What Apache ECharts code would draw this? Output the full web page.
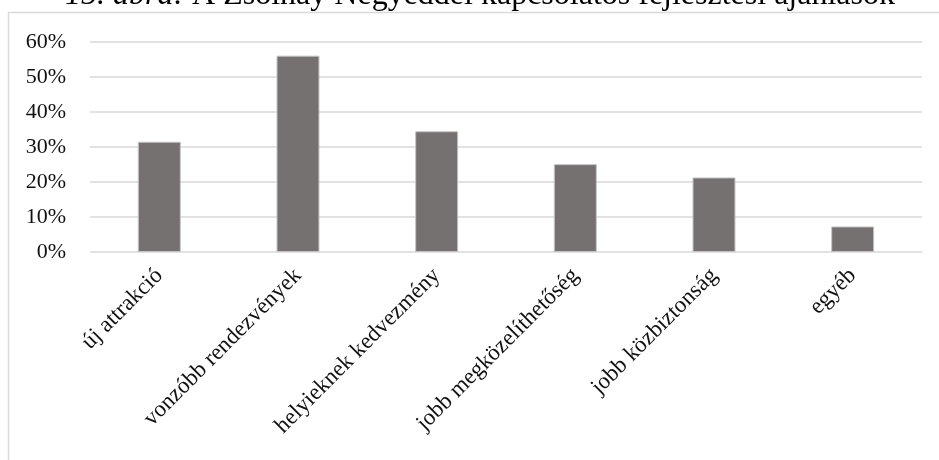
<!DOCTYPE html>
<html>
<head>
<meta charset="utf-8">
<style>
  html, body { margin: 0; padding: 0; background: #ffffff; }
  #chart { width: 939px; height: 460px; }
</style>
<script src="https://cdn.jsdelivr.net/npm/echarts@6/dist/echarts.min.js"></script>
</head>
<body>
<div id="chart"></div>
<script>
// Fejlesztési ajánlások – válaszok aránya
const categories = [
  'új attrakció',
  'vonzóbb rendezvények',
  'helyieknek kedvezmény',
  'jobb megközelíthetőség',
  'jobb közbiztonság',
  'egyéb'
];
const shares = [0.315, 0.561, 0.345, 0.251, 0.213, 0.073];
const yTicks = { min: 0, max: 0.6, step: 0.1 };

const serif = '"Liberation Serif", "Times New Roman", serif';
const chart = echarts.init(document.getElementById('chart'), null, { renderer: 'canvas' });

chart.setOption({
  animation: false,
  backgroundColor: '#ffffff',
  grid: { left: 90, right: 17, top: 42, bottom: 208, containLabel: false },
  graphic: [
    {
      type: 'rect',
      silent: true,
      shape: { x: 8.5, y: 12.5, width: 1000, height: 1000 },
      style: { fill: 'none', stroke: '#d9d9d9', lineWidth: 1.5 }
    },
    {
      type: 'text',
      silent: true,
      x: 480,
      y: -4,
      style: {
        text: '{i|15. ábra:} {n|A Zsolnay Negyeddel kapcsolatos fejlesztési ajánlások}',
        align: 'center',
        verticalAlign: 'middle',
        rich: {
          i: { fontFamily: serif, fontStyle: 'italic', fontSize: 32, fill: '#000000' },
          n: { fontFamily: serif, fontSize: 32, fill: '#000000' }
        },
        font: '32px ' + serif,
        fill: '#000000'
      }
    }
  ],
  xAxis: {
    type: 'category',
    data: categories,
    axisLine: { show: false },
    axisTick: { show: false },
    axisLabel: {
      interval: 0,
      rotate: 45,
      margin: 20,
      fontFamily: serif,
      fontSize: 23,
      color: '#111111'
    }
  },
  yAxis: {
    type: 'value',
    min: yTicks.min,
    max: yTicks.max,
    interval: yTicks.step,
    axisLine: { show: false },
    axisTick: { show: false },
    splitLine: { lineStyle: { color: '#d9d9d9', width: 1.5 } },
    axisLabel: {
      margin: 24,
      fontFamily: serif,
      fontSize: 22,
      color: '#111111',
      formatter: v => Math.round(v * 100) + '%'
    }
  },
  series: [{
    type: 'bar',
    data: shares,
    barWidth: '31%',
    itemStyle: { color: '#767171', borderColor: '#c4c4c4', borderWidth: 1 }
  }]
});
</script>
</body>
</html>
